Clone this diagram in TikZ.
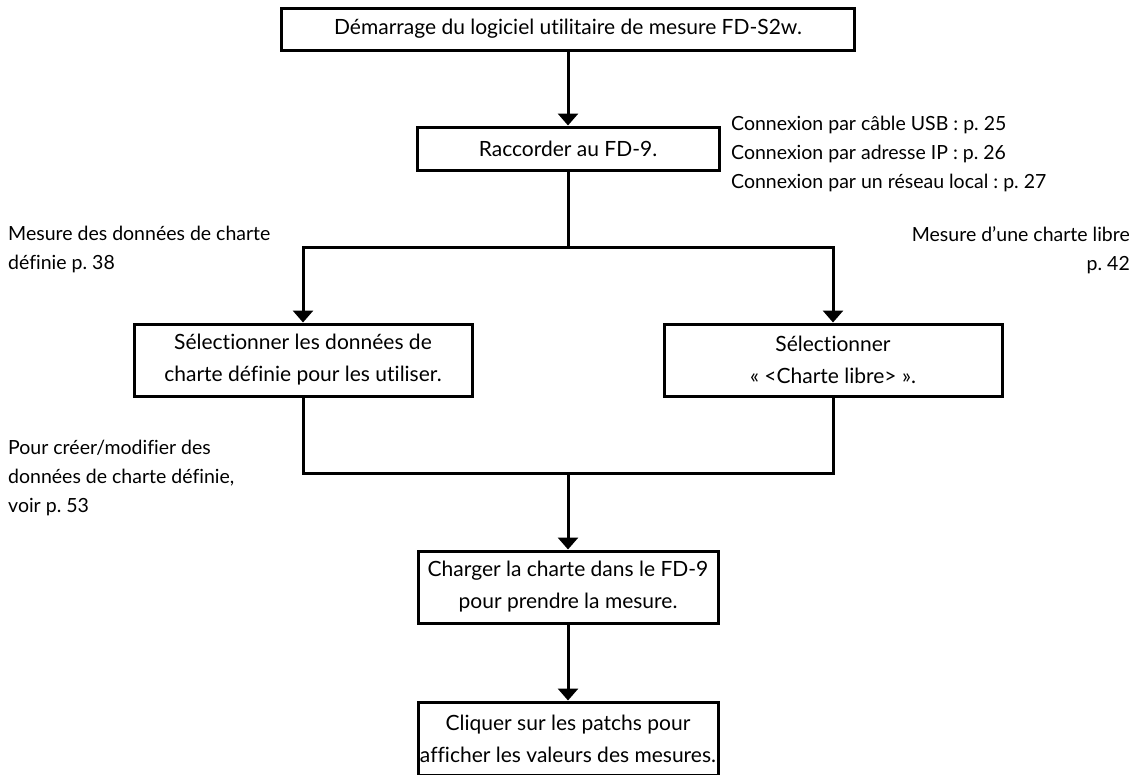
\documentclass[tikz,border=0pt]{standalone}
\usepackage{fontspec}
\setmainfont{Lato}[Ligatures=NoCommon]
\frenchspacing
\usetikzlibrary{arrows.meta}
\usetikzlibrary{positioning}

\begin{document}
\begin{tikzpicture}
  [x=1pt, y=-1pt,
   box/.style={draw, line width=3pt, align=center, inner sep=0pt,
       font=\fontsize{21}{32}\selectfont},
   note/.style={inner sep=0pt, font=\fontsize{19.5}{29}\selectfont},
   link/.style={line width=3pt},
   arr/.style={line width=3pt, -{Triangle[width=20pt,length=12pt]}},
  ]
  \useasboundingbox (0,0) rectangle (1140,774);

  % the steps
  \node[box, minimum width=573pt, minimum height=42pt] (start) at (568,29)
       {Démarrage du logiciel utilitaire de mesure FD-S2w.};
  \node[box, minimum width=302pt, minimum height=43pt] (connect) at (568,148.5)
       {Raccorder au FD-9.};
  \node[box, minimum width=338pt, minimum height=72pt] (defined) at (303,360)
       {Sélectionner les données de\\charte définie pour les utiliser.};
  \node[box, minimum width=338pt, minimum height=72pt] (free) at (833,360)
       {Sélectionner\\«~<Charte libre>~».};
  \node[box, minimum width=300pt, minimum height=72pt] (load) at (568,587)
       {Charger la charte dans le FD-9\\pour prendre la mesure.};
  \node[box, minimum width=300pt, minimum height=73pt] (click) at (568,738.5)
       {Cliquer sur les patchs pour\\afficher les valeurs des mesures.};

  % side notes
  \node[note, anchor=north west, align=left] (conninfo) at (731,116)
       {Connexion par câble USB : p. 25\\Connexion par adresse IP : p. 26\\Connexion par un réseau local : p. 27};
  \node[note, anchor=north west, align=left] (definfo) at (8,226)
       {Mesure des données de charte\\définie p. 38};
  \node[note, anchor=north east, align=right] (freeinfo) at (1130,226)
       {Mesure d’une charte libre\\p. 42};
  \node[note, anchor=north west, align=left] (editinfo) at (8,440)
       {Pour créer/modifier des\\données de charte définie,\\voir p. 53};

  \coordinate (split) at (568,247);
  \coordinate (join) at (568,473);

  % connectors
  \draw[arr] (start) -- (connect);
  \draw[link] (connect) -- (split);
  \draw[arr] (split) -| (defined.north);
  \draw[arr] (split) -| (free.north);
  \draw[link] (defined.south) |- (join) -| (free.south);
  \draw[arr] (join) -- (load);
  \draw[arr] (load) -- (click);
\end{tikzpicture}
\end{document}
